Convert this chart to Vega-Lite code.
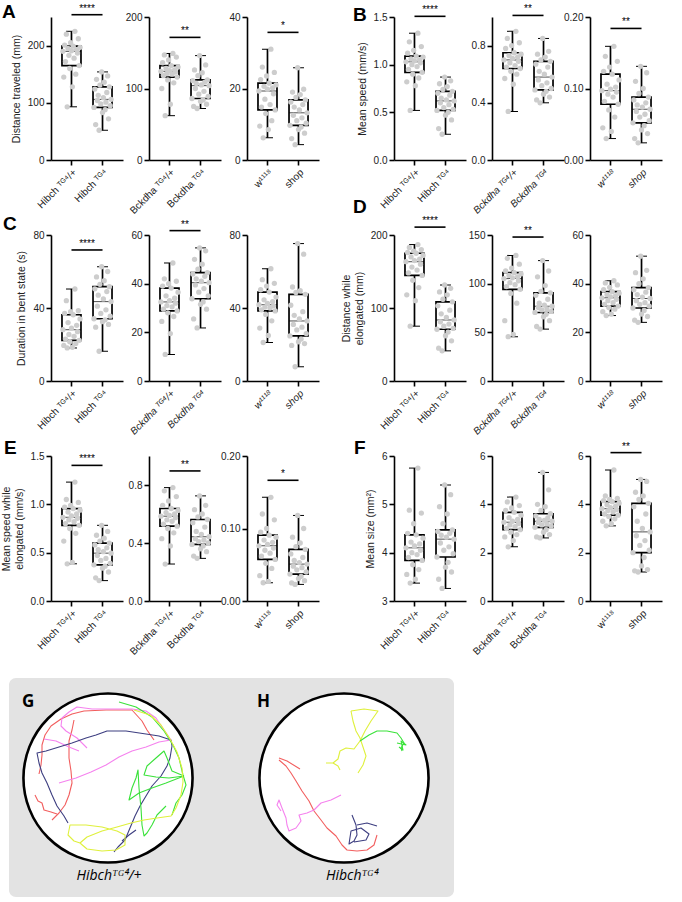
{
"$schema": "https://vega.github.io/schema/vega-lite/v6.json",
"padding": {"left": 1, "top": 2, "right": 2, "bottom": 0},
"background": "white",
"datasets": {
"A1": [{"g":"h+","i":1,"v":190},{"g":"h+","i":2,"v":145},{"g":"h+","i":3,"v":201},{"g":"h+","i":4,"v":172},{"g":"h+","i":5,"v":220},{"g":"h+","i":6,"v":93},{"g":"h+","i":7,"v":195},{"g":"h+","i":8,"v":183},{"g":"h+","i":9,"v":160},{"g":"h+","i":10,"v":205},{"g":"h+","i":11,"v":191},{"g":"h+","i":12,"v":128},{"g":"h+","i":13,"v":199},{"g":"h+","i":14,"v":178},{"g":"h+","i":15,"v":225},{"g":"h+","i":16,"v":150},{"g":"h+","i":17,"v":193},{"g":"h+","i":18,"v":187},{"g":"h+","i":19,"v":212},{"g":"h+","i":20,"v":165},{"g":"h+","i":21,"v":197},
{"g":"h","i":1,"v":92},{"g":"h","i":2,"v":124},{"g":"h","i":3,"v":62},{"g":"h","i":4,"v":141},{"g":"h","i":5,"v":104},{"g":"h","i":6,"v":113},{"g":"h","i":7,"v":52},{"g":"h","i":8,"v":131},{"g":"h","i":9,"v":98},{"g":"h","i":10,"v":154},{"g":"h","i":11,"v":83},{"g":"h","i":12,"v":109},{"g":"h","i":13,"v":136},{"g":"h","i":14,"v":88},{"g":"h","i":15,"v":101},{"g":"h","i":16,"v":118},{"g":"h","i":17,"v":147},{"g":"h","i":18,"v":72},{"g":"h","i":19,"v":128},{"g":"h","i":20,"v":95},{"g":"h","i":21,"v":106}],
"A2": [{"g":"b+","i":1,"v":124},{"g":"b+","i":2,"v":100},{"g":"b+","i":3,"v":136},{"g":"b+","i":4,"v":118},{"g":"b+","i":5,"v":147},{"g":"b+","i":6,"v":62},{"g":"b+","i":7,"v":128},{"g":"b+","i":8,"v":121},{"g":"b+","i":9,"v":112},{"g":"b+","i":10,"v":140},{"g":"b+","i":11,"v":125},{"g":"b+","i":12,"v":78},{"g":"b+","i":13,"v":132},{"g":"b+","i":14,"v":120},{"g":"b+","i":15,"v":149},{"g":"b+","i":16,"v":108},{"g":"b+","i":17,"v":126},{"g":"b+","i":18,"v":123},{"g":"b+","i":19,"v":144},{"g":"b+","i":20,"v":116},{"g":"b+","i":21,"v":130},
{"g":"b","i":1,"v":86},{"g":"b","i":2,"v":111},{"g":"b","i":3,"v":75},{"g":"b","i":4,"v":126},{"g":"b","i":5,"v":100},{"g":"b","i":6,"v":107},{"g":"b","i":7,"v":72},{"g":"b","i":8,"v":118},{"g":"b","i":9,"v":92},{"g":"b","i":10,"v":146},{"g":"b","i":11,"v":82},{"g":"b","i":12,"v":105},{"g":"b","i":13,"v":122},{"g":"b","i":14,"v":84},{"g":"b","i":15,"v":96},{"g":"b","i":16,"v":109},{"g":"b","i":17,"v":133},{"g":"b","i":18,"v":78},{"g":"b","i":19,"v":112},{"g":"b","i":20,"v":89},{"g":"b","i":21,"v":104}],
"A3": [{"g":"w","i":1,"v":19.3},{"g":"w","i":2,"v":9.5},{"g":"w","i":3,"v":22.5},{"g":"w","i":4,"v":14.8},{"g":"w","i":5,"v":26},{"g":"w","i":6,"v":6.2},{"g":"w","i":7,"v":20.6},{"g":"w","i":8,"v":17},{"g":"w","i":9,"v":13},{"g":"w","i":10,"v":23.5},{"g":"w","i":11,"v":19.8},{"g":"w","i":12,"v":8.5},{"g":"w","i":13,"v":21.5},{"g":"w","i":14,"v":15.5},{"g":"w","i":15,"v":31},{"g":"w","i":16,"v":11},{"g":"w","i":17,"v":20.2},{"g":"w","i":18,"v":18.5},{"g":"w","i":19,"v":24.5},{"g":"w","i":20,"v":14},{"g":"w","i":21,"v":21},
{"g":"s","i":1,"v":9.7},{"g":"s","i":2,"v":16.2},{"g":"s","i":3,"v":6},{"g":"s","i":4,"v":19},{"g":"s","i":5,"v":12.5},{"g":"s","i":6,"v":14.8},{"g":"s","i":7,"v":4.3},{"g":"s","i":8,"v":17.5},{"g":"s","i":9,"v":11},{"g":"s","i":10,"v":25.8},{"g":"s","i":11,"v":8.5},{"g":"s","i":12,"v":14},{"g":"s","i":13,"v":18.3},{"g":"s","i":14,"v":9.2},{"g":"s","i":15,"v":11.8},{"g":"s","i":16,"v":15.5},{"g":"s","i":17,"v":19.8},{"g":"s","i":18,"v":7.5},{"g":"s","i":19,"v":16.8},{"g":"s","i":20,"v":10.3},{"g":"s","i":21,"v":13.2}],
"B1": [{"g":"h+","i":1,"v":1.03},{"g":"h+","i":2,"v":0.82},{"g":"h+","i":3,"v":1.12},{"g":"h+","i":4,"v":0.95},{"g":"h+","i":5,"v":1.24},{"g":"h+","i":6,"v":0.52},{"g":"h+","i":7,"v":1.06},{"g":"h+","i":8,"v":1.0},{"g":"h+","i":9,"v":0.9},{"g":"h+","i":10,"v":1.15},{"g":"h+","i":11,"v":1.04},{"g":"h+","i":12,"v":0.78},{"g":"h+","i":13,"v":1.09},{"g":"h+","i":14,"v":0.98},{"g":"h+","i":15,"v":1.33},{"g":"h+","i":16,"v":0.86},{"g":"h+","i":17,"v":1.05},{"g":"h+","i":18,"v":1.02},{"g":"h+","i":19,"v":1.19},{"g":"h+","i":20,"v":0.92},{"g":"h+","i":21,"v":1.08},
{"g":"h","i":1,"v":0.52},{"g":"h","i":2,"v":0.7},{"g":"h","i":3,"v":0.33},{"g":"h","i":4,"v":0.8},{"g":"h","i":5,"v":0.6},{"g":"h","i":6,"v":0.65},{"g":"h","i":7,"v":0.27},{"g":"h","i":8,"v":0.74},{"g":"h","i":9,"v":0.55},{"g":"h","i":10,"v":0.87},{"g":"h","i":11,"v":0.47},{"g":"h","i":12,"v":0.63},{"g":"h","i":13,"v":0.77},{"g":"h","i":14,"v":0.5},{"g":"h","i":15,"v":0.58},{"g":"h","i":16,"v":0.68},{"g":"h","i":17,"v":0.83},{"g":"h","i":18,"v":0.42},{"g":"h","i":19,"v":0.72},{"g":"h","i":20,"v":0.53},{"g":"h","i":21,"v":0.62}],
"B2": [{"g":"b+","i":1,"v":0.7},{"g":"b+","i":2,"v":0.57},{"g":"b+","i":3,"v":0.78},{"g":"b+","i":4,"v":0.65},{"g":"b+","i":5,"v":0.85},{"g":"b+","i":6,"v":0.34},{"g":"b+","i":7,"v":0.73},{"g":"b+","i":8,"v":0.68},{"g":"b+","i":9,"v":0.62},{"g":"b+","i":10,"v":0.8},{"g":"b+","i":11,"v":0.71},{"g":"b+","i":12,"v":0.53},{"g":"b+","i":13,"v":0.75},{"g":"b+","i":14,"v":0.66},{"g":"b+","i":15,"v":0.9},{"g":"b+","i":16,"v":0.6},{"g":"b+","i":17,"v":0.72},{"g":"b+","i":18,"v":0.69},{"g":"b+","i":19,"v":0.82},{"g":"b+","i":20,"v":0.64},{"g":"b+","i":21,"v":0.74},
{"g":"b","i":1,"v":0.49},{"g":"b","i":2,"v":0.67},{"g":"b","i":3,"v":0.42},{"g":"b","i":4,"v":0.74},{"g":"b","i":5,"v":0.56},{"g":"b","i":6,"v":0.62},{"g":"b","i":7,"v":0.4},{"g":"b","i":8,"v":0.7},{"g":"b","i":9,"v":0.52},{"g":"b","i":10,"v":0.85},{"g":"b","i":11,"v":0.46},{"g":"b","i":12,"v":0.6},{"g":"b","i":13,"v":0.72},{"g":"b","i":14,"v":0.48},{"g":"b","i":15,"v":0.54},{"g":"b","i":16,"v":0.65},{"g":"b","i":17,"v":0.76},{"g":"b","i":18,"v":0.44},{"g":"b","i":19,"v":0.69},{"g":"b","i":20,"v":0.5},{"g":"b","i":21,"v":0.58}],
"B3": [{"g":"w","i":1,"v":0.097},{"g":"w","i":2,"v":0.045},{"g":"w","i":3,"v":0.124},{"g":"w","i":4,"v":0.082},{"g":"w","i":5,"v":0.145},{"g":"w","i":6,"v":0.03},{"g":"w","i":7,"v":0.106},{"g":"w","i":8,"v":0.092},{"g":"w","i":9,"v":0.07},{"g":"w","i":10,"v":0.13},{"g":"w","i":11,"v":0.099},{"g":"w","i":12,"v":0.04},{"g":"w","i":13,"v":0.12},{"g":"w","i":14,"v":0.088},{"g":"w","i":15,"v":0.159},{"g":"w","i":16,"v":0.06},{"g":"w","i":17,"v":0.102},{"g":"w","i":18,"v":0.095},{"g":"w","i":19,"v":0.138},{"g":"w","i":20,"v":0.078},{"g":"w","i":21,"v":0.112},
{"g":"s","i":1,"v":0.052},{"g":"s","i":2,"v":0.084},{"g":"s","i":3,"v":0.03},{"g":"s","i":4,"v":0.11},{"g":"s","i":5,"v":0.068},{"g":"s","i":6,"v":0.077},{"g":"s","i":7,"v":0.024},{"g":"s","i":8,"v":0.093},{"g":"s","i":9,"v":0.06},{"g":"s","i":10,"v":0.131},{"g":"s","i":11,"v":0.042},{"g":"s","i":12,"v":0.074},{"g":"s","i":13,"v":0.1},{"g":"s","i":14,"v":0.048},{"g":"s","i":15,"v":0.064},{"g":"s","i":16,"v":0.08},{"g":"s","i":17,"v":0.122},{"g":"s","i":18,"v":0.037},{"g":"s","i":19,"v":0.088},{"g":"s","i":20,"v":0.055},{"g":"s","i":21,"v":0.071}],
"C1": [{"g":"h+","i":1,"v":28.1},{"g":"h+","i":2,"v":19.5},{"g":"h+","i":3,"v":37},{"g":"h+","i":4,"v":23},{"g":"h+","i":5,"v":44},{"g":"h+","i":6,"v":18.1},{"g":"h+","i":7,"v":32},{"g":"h+","i":8,"v":25.5},{"g":"h+","i":9,"v":21.5},{"g":"h+","i":10,"v":38},{"g":"h+","i":11,"v":29},{"g":"h+","i":12,"v":18.5},{"g":"h+","i":13,"v":36.3},{"g":"h+","i":14,"v":24.5},{"g":"h+","i":15,"v":50.4},{"g":"h+","i":16,"v":20.5},{"g":"h+","i":17,"v":30.5},{"g":"h+","i":18,"v":27},{"g":"h+","i":19,"v":38.5},{"g":"h+","i":20,"v":22.3},{"g":"h+","i":21,"v":34},
{"g":"h","i":1,"v":34.1},{"g":"h","i":2,"v":50.5},{"g":"h","i":3,"v":29.5},{"g":"h","i":4,"v":57},{"g":"h","i":5,"v":41},{"g":"h","i":6,"v":47},{"g":"h","i":7,"v":16.3},{"g":"h","i":8,"v":53},{"g":"h","i":9,"v":37},{"g":"h","i":10,"v":62.6},{"g":"h","i":11,"v":32.5},{"g":"h","i":12,"v":45},{"g":"h","i":13,"v":55},{"g":"h","i":14,"v":33.5},{"g":"h","i":15,"v":39},{"g":"h","i":16,"v":49},{"g":"h","i":17,"v":60},{"g":"h","i":18,"v":31},{"g":"h","i":19,"v":51.7},{"g":"h","i":20,"v":35.5},{"g":"h","i":21,"v":43.5}],
"C2": [{"g":"b+","i":1,"v":32.5},{"g":"b+","i":2,"v":24.5},{"g":"b+","i":3,"v":39},{"g":"b+","i":4,"v":29.5},{"g":"b+","i":5,"v":42},{"g":"b+","i":6,"v":10.9},{"g":"b+","i":7,"v":35},{"g":"b+","i":8,"v":31},{"g":"b+","i":9,"v":28},{"g":"b+","i":10,"v":40},{"g":"b+","i":11,"v":33},{"g":"b+","i":12,"v":19.5},{"g":"b+","i":13,"v":38.2},{"g":"b+","i":14,"v":30.5},{"g":"b+","i":15,"v":48.5},{"g":"b+","i":16,"v":26.5},{"g":"b+","i":17,"v":34},{"g":"b+","i":18,"v":32},{"g":"b+","i":19,"v":41},{"g":"b+","i":20,"v":28.8},{"g":"b+","i":21,"v":36.5},
{"g":"b","i":1,"v":33.8},{"g":"b","i":2,"v":44},{"g":"b","i":3,"v":25.5},{"g":"b","i":4,"v":50},{"g":"b","i":5,"v":39.5},{"g":"b","i":6,"v":42},{"g":"b","i":7,"v":21.8},{"g":"b","i":8,"v":46},{"g":"b","i":9,"v":36.5},{"g":"b","i":10,"v":54.7},{"g":"b","i":11,"v":31.5},{"g":"b","i":12,"v":41},{"g":"b","i":13,"v":48},{"g":"b","i":14,"v":32.5},{"g":"b","i":15,"v":38},{"g":"b","i":16,"v":43},{"g":"b","i":17,"v":53.5},{"g":"b","i":18,"v":29.5},{"g":"b","i":19,"v":44.5},{"g":"b","i":20,"v":35},{"g":"b","i":21,"v":40.4}],
"C3": [{"g":"w","i":1,"v":41.8},{"g":"w","i":2,"v":29},{"g":"w","i":3,"v":50},{"g":"w","i":4,"v":39},{"g":"w","i":5,"v":55.5},{"g":"w","i":6,"v":21.1},{"g":"w","i":7,"v":44.5},{"g":"w","i":8,"v":40.5},{"g":"w","i":9,"v":36.5},{"g":"w","i":10,"v":52},{"g":"w","i":11,"v":42.5},{"g":"w","i":12,"v":25},{"g":"w","i":13,"v":48.7},{"g":"w","i":14,"v":40},{"g":"w","i":15,"v":61.5},{"g":"w","i":16,"v":33},{"g":"w","i":17,"v":43.5},{"g":"w","i":18,"v":41.2},{"g":"w","i":19,"v":53.5},{"g":"w","i":20,"v":38.4},{"g":"w","i":21,"v":46},
{"g":"s","i":1,"v":24.7},{"g":"s","i":2,"v":41.5},{"g":"s","i":3,"v":19.5},{"g":"s","i":4,"v":51.5},{"g":"s","i":5,"v":31},{"g":"s","i":6,"v":36},{"g":"s","i":7,"v":7.8},{"g":"s","i":8,"v":48.5},{"g":"s","i":9,"v":28},{"g":"s","i":10,"v":75.3},{"g":"s","i":11,"v":21.5},{"g":"s","i":12,"v":34},{"g":"s","i":13,"v":49.5},{"g":"s","i":14,"v":23},{"g":"s","i":15,"v":29.5},{"g":"s","i":16,"v":38},{"g":"s","i":17,"v":69.5},{"g":"s","i":18,"v":20.5},{"g":"s","i":19,"v":47.5},{"g":"s","i":20,"v":26},{"g":"s","i":21,"v":32.9}],
"D1": [{"g":"h+","i":1,"v":163.4},{"g":"h+","i":2,"v":118},{"g":"h+","i":3,"v":176},{"g":"h+","i":4,"v":148},{"g":"h+","i":5,"v":183},{"g":"h+","i":6,"v":75.1},{"g":"h+","i":7,"v":170},{"g":"h+","i":8,"v":156},{"g":"h+","i":9,"v":138},{"g":"h+","i":10,"v":178},{"g":"h+","i":11,"v":165},{"g":"h+","i":12,"v":110},{"g":"h+","i":13,"v":175},{"g":"h+","i":14,"v":152},{"g":"h+","i":15,"v":186.9},{"g":"h+","i":16,"v":128},{"g":"h+","i":17,"v":167},{"g":"h+","i":18,"v":160},{"g":"h+","i":19,"v":180},{"g":"h+","i":20,"v":144.6},{"g":"h+","i":21,"v":172},
{"g":"h","i":1,"v":70.9},{"g":"h","i":2,"v":103},{"g":"h","i":3,"v":45},{"g":"h","i":4,"v":122},{"g":"h","i":5,"v":81},{"g":"h","i":6,"v":92},{"g":"h","i":7,"v":41.3},{"g":"h","i":8,"v":112},{"g":"h","i":9,"v":75},{"g":"h","i":10,"v":131.5},{"g":"h","i":11,"v":62},{"g":"h","i":12,"v":87},{"g":"h","i":13,"v":118},{"g":"h","i":14,"v":67},{"g":"h","i":15,"v":78},{"g":"h","i":16,"v":97},{"g":"h","i":17,"v":127},{"g":"h","i":18,"v":55},{"g":"h","i":19,"v":108.5},{"g":"h","i":20,"v":72},{"g":"h","i":21,"v":83.6}],
"D2": [{"g":"b+","i":1,"v":105.2},{"g":"b+","i":2,"v":62},{"g":"b+","i":3,"v":113},{"g":"b+","i":4,"v":97},{"g":"b+","i":5,"v":126},{"g":"b+","i":6,"v":45.5},{"g":"b+","i":7,"v":108.5},{"g":"b+","i":8,"v":101},{"g":"b+","i":9,"v":90},{"g":"b+","i":10,"v":116},{"g":"b+","i":11,"v":106},{"g":"b+","i":12,"v":48},{"g":"b+","i":13,"v":111.3},{"g":"b+","i":14,"v":99},{"g":"b+","i":15,"v":129},{"g":"b+","i":16,"v":80},{"g":"b+","i":17,"v":107},{"g":"b+","i":18,"v":103},{"g":"b+","i":19,"v":120},{"g":"b+","i":20,"v":94.2},{"g":"b+","i":21,"v":110},
{"g":"b","i":1,"v":70.4},{"g":"b","i":2,"v":88},{"g":"b","i":3,"v":56},{"g":"b","i":4,"v":107},{"g":"b","i":5,"v":75.5},{"g":"b","i":6,"v":80},{"g":"b","i":7,"v":53.3},{"g":"b","i":8,"v":92},{"g":"b","i":9,"v":73},{"g":"b","i":10,"v":123.7},{"g":"b","i":11,"v":66},{"g":"b","i":12,"v":78},{"g":"b","i":13,"v":98},{"g":"b","i":14,"v":68.5},{"g":"b","i":15,"v":74},{"g":"b","i":16,"v":84},{"g":"b","i":17,"v":113},{"g":"b","i":18,"v":62},{"g":"b","i":19,"v":90.6},{"g":"b","i":20,"v":71.5},{"g":"b","i":21,"v":76.8}],
"D3": [{"g":"w","i":1,"v":34.2},{"g":"w","i":2,"v":28.5},{"g":"w","i":3,"v":37.5},{"g":"w","i":4,"v":31.5},{"g":"w","i":5,"v":40.3},{"g":"w","i":6,"v":26.9},{"g":"w","i":7,"v":35.5},{"g":"w","i":8,"v":33},{"g":"w","i":9,"v":30.2},{"g":"w","i":10,"v":38.5},{"g":"w","i":11,"v":34.6},{"g":"w","i":12,"v":27.5},{"g":"w","i":13,"v":36.7},{"g":"w","i":14,"v":32.2},{"g":"w","i":15,"v":41.2},{"g":"w","i":16,"v":29.5},{"g":"w","i":17,"v":35},{"g":"w","i":18,"v":33.6},{"g":"w","i":19,"v":39.5},{"g":"w","i":20,"v":30.8},{"g":"w","i":21,"v":36.1},
{"g":"s","i":1,"v":30},{"g":"s","i":2,"v":37.5},{"g":"s","i":3,"v":25},{"g":"s","i":4,"v":44.5},{"g":"s","i":5,"v":33},{"g":"s","i":6,"v":35.5},{"g":"s","i":7,"v":24.1},{"g":"s","i":8,"v":40},{"g":"s","i":9,"v":31.5},{"g":"s","i":10,"v":51.3},{"g":"s","i":11,"v":27.5},{"g":"s","i":12,"v":34.5},{"g":"s","i":13,"v":42},{"g":"s","i":14,"v":29},{"g":"s","i":15,"v":32.2},{"g":"s","i":16,"v":36.5},{"g":"s","i":17,"v":45.5},{"g":"s","i":18,"v":26.5},{"g":"s","i":19,"v":38.4},{"g":"s","i":20,"v":30.8},{"g":"s","i":21,"v":33.9}],
"E1": [{"g":"h+","i":1,"v":0.866},{"g":"h+","i":2,"v":0.62},{"g":"h+","i":3,"v":0.97},{"g":"h+","i":4,"v":0.8},{"g":"h+","i":5,"v":1.05},{"g":"h+","i":6,"v":0.385},{"g":"h+","i":7,"v":0.92},{"g":"h+","i":8,"v":0.84},{"g":"h+","i":9,"v":0.75},{"g":"h+","i":10,"v":0.99},{"g":"h+","i":11,"v":0.88},{"g":"h+","i":12,"v":0.4},{"g":"h+","i":13,"v":0.956},{"g":"h+","i":14,"v":0.82},{"g":"h+","i":15,"v":1.23},{"g":"h+","i":16,"v":0.7},{"g":"h+","i":17,"v":0.9},{"g":"h+","i":18,"v":0.855},{"g":"h+","i":19,"v":1.02},{"g":"h+","i":20,"v":0.783},{"g":"h+","i":21,"v":0.94},
{"g":"h","i":1,"v":0.374},{"g":"h","i":2,"v":0.58},{"g":"h","i":3,"v":0.24},{"g":"h","i":4,"v":0.68},{"g":"h","i":5,"v":0.47},{"g":"h","i":6,"v":0.53},{"g":"h","i":7,"v":0.211},{"g":"h","i":8,"v":0.62},{"g":"h","i":9,"v":0.42},{"g":"h","i":10,"v":0.783},{"g":"h","i":11,"v":0.34},{"g":"h","i":12,"v":0.51},{"g":"h","i":13,"v":0.65},{"g":"h","i":14,"v":0.36},{"g":"h","i":15,"v":0.44},{"g":"h","i":16,"v":0.55},{"g":"h","i":17,"v":0.72},{"g":"h","i":18,"v":0.3},{"g":"h","i":19,"v":0.599},{"g":"h","i":20,"v":0.39},{"g":"h","i":21,"v":0.495}],
"E2": [{"g":"b+","i":1,"v":0.585},{"g":"b+","i":2,"v":0.43},{"g":"b+","i":3,"v":0.66},{"g":"b+","i":4,"v":0.53},{"g":"b+","i":5,"v":0.76},{"g":"b+","i":6,"v":0.255},{"g":"b+","i":7,"v":0.61},{"g":"b+","i":8,"v":0.56},{"g":"b+","i":9,"v":0.5},{"g":"b+","i":10,"v":0.69},{"g":"b+","i":11,"v":0.59},{"g":"b+","i":12,"v":0.38},{"g":"b+","i":13,"v":0.638},{"g":"b+","i":14,"v":0.55},{"g":"b+","i":15,"v":0.782},{"g":"b+","i":16,"v":0.47},{"g":"b+","i":17,"v":0.6},{"g":"b+","i":18,"v":0.575},{"g":"b+","i":19,"v":0.72},{"g":"b+","i":20,"v":0.516},{"g":"b+","i":21,"v":0.625},
{"g":"b","i":1,"v":0.39},{"g":"b","i":2,"v":0.54},{"g":"b","i":3,"v":0.31},{"g":"b","i":4,"v":0.63},{"g":"b","i":5,"v":0.43},{"g":"b","i":6,"v":0.48},{"g":"b","i":7,"v":0.294},{"g":"b","i":8,"v":0.58},{"g":"b","i":9,"v":0.41},{"g":"b","i":10,"v":0.725},{"g":"b","i":11,"v":0.36},{"g":"b","i":12,"v":0.46},{"g":"b","i":13,"v":0.6},{"g":"b","i":14,"v":0.38},{"g":"b","i":15,"v":0.42},{"g":"b","i":16,"v":0.51},{"g":"b","i":17,"v":0.66},{"g":"b","i":18,"v":0.34},{"g":"b","i":19,"v":0.562},{"g":"b","i":20,"v":0.4},{"g":"b","i":21,"v":0.443}],
"E3": [{"g":"w","i":1,"v":0.0761},{"g":"w","i":2,"v":0.035},{"g":"w","i":3,"v":0.095},{"g":"w","i":4,"v":0.062},{"g":"w","i":5,"v":0.12},{"g":"w","i":6,"v":0.0252},{"g":"w","i":7,"v":0.084},{"g":"w","i":8,"v":0.07},{"g":"w","i":9,"v":0.052},{"g":"w","i":10,"v":0.1},{"g":"w","i":11,"v":0.078},{"g":"w","i":12,"v":0.027},{"g":"w","i":13,"v":0.0908},{"g":"w","i":14,"v":0.066},{"g":"w","i":15,"v":0.143},{"g":"w","i":16,"v":0.045},{"g":"w","i":17,"v":0.081},{"g":"w","i":18,"v":0.073},{"g":"w","i":19,"v":0.112},{"g":"w","i":20,"v":0.0573},{"g":"w","i":21,"v":0.088},
{"g":"s","i":1,"v":0.0372},{"g":"s","i":2,"v":0.065},{"g":"s","i":3,"v":0.025},{"g":"s","i":4,"v":0.088},{"g":"s","i":5,"v":0.048},{"g":"s","i":6,"v":0.056},{"g":"s","i":7,"v":0.0229},{"g":"s","i":8,"v":0.075},{"g":"s","i":9,"v":0.043},{"g":"s","i":10,"v":0.118},{"g":"s","i":11,"v":0.031},{"g":"s","i":12,"v":0.053},{"g":"s","i":13,"v":0.08},{"g":"s","i":14,"v":0.034},{"g":"s","i":15,"v":0.046},{"g":"s","i":16,"v":0.06},{"g":"s","i":17,"v":0.1},{"g":"s","i":18,"v":0.028},{"g":"s","i":19,"v":0.0711},{"g":"s","i":20,"v":0.04},{"g":"s","i":21,"v":0.0509}],
"F1": [{"g":"h+","i":1,"v":4.1},{"g":"h+","i":2,"v":3.55},{"g":"h+","i":3,"v":4.4},{"g":"h+","i":4,"v":3.9},{"g":"h+","i":5,"v":4.88},{"g":"h+","i":6,"v":3.37},{"g":"h+","i":7,"v":4.22},{"g":"h+","i":8,"v":4.0},{"g":"h+","i":9,"v":3.75},{"g":"h+","i":10,"v":4.6},{"g":"h+","i":11,"v":4.14},{"g":"h+","i":12,"v":3.45},{"g":"h+","i":13,"v":4.37},{"g":"h+","i":14,"v":3.96},{"g":"h+","i":15,"v":5.75},{"g":"h+","i":16,"v":3.65},{"g":"h+","i":17,"v":4.18},{"g":"h+","i":18,"v":4.05},{"g":"h+","i":19,"v":4.82},{"g":"h+","i":20,"v":3.84},{"g":"h+","i":21,"v":4.3},
{"g":"h","i":1,"v":3.91},{"g":"h","i":2,"v":4.44},{"g":"h","i":3,"v":3.45},{"g":"h","i":4,"v":4.95},{"g":"h","i":5,"v":4.2},{"g":"h","i":6,"v":4.36},{"g":"h","i":7,"v":3.26},{"g":"h","i":8,"v":4.6},{"g":"h","i":9,"v":4.05},{"g":"h","i":10,"v":5.4},{"g":"h","i":11,"v":3.7},{"g":"h","i":12,"v":4.32},{"g":"h","i":13,"v":4.8},{"g":"h","i":14,"v":3.8},{"g":"h","i":15,"v":4.12},{"g":"h","i":16,"v":4.4},{"g":"h","i":17,"v":5.2},{"g":"h","i":18,"v":3.6},{"g":"h","i":19,"v":4.47},{"g":"h","i":20,"v":3.98},{"g":"h","i":21,"v":4.28}],
"F2": [{"g":"b+","i":1,"v":3.26},{"g":"b+","i":2,"v":2.65},{"g":"b+","i":3,"v":3.75},{"g":"b+","i":4,"v":3.0},{"g":"b+","i":5,"v":4.1},{"g":"b+","i":6,"v":2.24},{"g":"b+","i":7,"v":3.45},{"g":"b+","i":8,"v":3.15},{"g":"b+","i":9,"v":2.85},{"g":"b+","i":10,"v":3.85},{"g":"b+","i":11,"v":3.3},{"g":"b+","i":12,"v":2.5},{"g":"b+","i":13,"v":3.67},{"g":"b+","i":14,"v":3.08},{"g":"b+","i":15,"v":4.3},{"g":"b+","i":16,"v":2.75},{"g":"b+","i":17,"v":3.38},{"g":"b+","i":18,"v":3.2},{"g":"b+","i":19,"v":3.95},{"g":"b+","i":20,"v":2.95},{"g":"b+","i":21,"v":3.55},
{"g":"b","i":1,"v":3.05},{"g":"b","i":2,"v":3.52},{"g":"b","i":3,"v":2.65},{"g":"b","i":4,"v":4.0},{"g":"b","i":5,"v":3.25},{"g":"b","i":6,"v":3.38},{"g":"b","i":7,"v":2.61},{"g":"b","i":8,"v":3.75},{"g":"b","i":9,"v":3.15},{"g":"b","i":10,"v":5.32},{"g":"b","i":11,"v":2.85},{"g":"b","i":12,"v":3.34},{"g":"b","i":13,"v":3.9},{"g":"b","i":14,"v":2.95},{"g":"b","i":15,"v":3.2},{"g":"b","i":16,"v":3.44},{"g":"b","i":17,"v":4.6},{"g":"b","i":18,"v":2.75},{"g":"b","i":19,"v":3.61},{"g":"b","i":20,"v":3.1},{"g":"b","i":21,"v":3.3}],
"F3": [{"g":"w","i":1,"v":3.82},{"g":"w","i":2,"v":3.3},{"g":"w","i":3,"v":4.15},{"g":"w","i":4,"v":3.6},{"g":"w","i":5,"v":4.35},{"g":"w","i":6,"v":3.11},{"g":"w","i":7,"v":3.98},{"g":"w","i":8,"v":3.74},{"g":"w","i":9,"v":3.5},{"g":"w","i":10,"v":4.2},{"g":"w","i":11,"v":3.86},{"g":"w","i":12,"v":3.2},{"g":"w","i":13,"v":4.11},{"g":"w","i":14,"v":3.68},{"g":"w","i":15,"v":5.42},{"g":"w","i":16,"v":3.4},{"g":"w","i":17,"v":3.92},{"g":"w","i":18,"v":3.78},{"g":"w","i":19,"v":4.25},{"g":"w","i":20,"v":3.55},{"g":"w","i":21,"v":4.05},
{"g":"s","i":1,"v":2.0},{"g":"s","i":2,"v":3.9},{"g":"s","i":3,"v":1.25},{"g":"s","i":4,"v":4.5},{"g":"s","i":5,"v":2.7},{"g":"s","i":6,"v":3.3},{"g":"s","i":7,"v":1.2},{"g":"s","i":8,"v":4.2},{"g":"s","i":9,"v":2.3},{"g":"s","i":10,"v":5.03},{"g":"s","i":11,"v":1.45},{"g":"s","i":12,"v":3.0},{"g":"s","i":13,"v":4.35},{"g":"s","i":14,"v":1.8},{"g":"s","i":15,"v":2.5},{"g":"s","i":16,"v":3.6},{"g":"s","i":17,"v":4.95},{"g":"s","i":18,"v":1.3},{"g":"s","i":19,"v":4.04},{"g":"s","i":20,"v":2.1},{"g":"s","i":21,"v":2.86}],
"tracks": [
{"t":"G1","c":"1","k":1,"x":145,"y":62},{"t":"G1","c":"1","k":2,"x":138,"y":52},{"t":"G1","c":"1","k":3,"x":133,"y":43},{"t":"G1","c":"1","k":4,"x":123,"y":32},{"t":"G1","c":"1","k":5,"x":110,"y":32},{"t":"G1","c":"1","k":6,"x":97,"y":32},{"t":"G1","c":"1","k":7,"x":75,"y":33},{"t":"G1","c":"1","k":8,"x":63,"y":36},{"t":"G1","c":"1","k":9,"x":52,"y":41},{"t":"G1","c":"1","k":10,"x":42,"y":48},{"t":"G1","c":"1","k":11,"x":36,"y":57},{"t":"G1","c":"1","k":12,"x":33,"y":67},{"t":"G1","c":"1","k":13,"x":33,"y":77},{"t":"G1","c":"1","k":14,"x":32,"y":87},{"t":"G1","c":"1","k":15,"x":30,"y":96},
{"t":"G2","c":"1","k":1,"x":65,"y":42},{"t":"G2","c":"1","k":2,"x":63,"y":52},{"t":"G2","c":"1","k":3,"x":60,"y":63},{"t":"G2","c":"1","k":4,"x":60,"y":80},{"t":"G2","c":"1","k":5,"x":62,"y":93},{"t":"G2","c":"1","k":6,"x":63,"y":105},{"t":"G2","c":"1","k":7,"x":60,"y":117},{"t":"G2","c":"1","k":8,"x":56,"y":127},{"t":"G2","c":"1","k":9,"x":50,"y":135},{"t":"G2","c":"1","k":10,"x":43,"y":142},
{"t":"G3","c":"1","k":1,"x":26,"y":117},{"t":"G3","c":"1","k":2,"x":29,"y":123},{"t":"G3","c":"1","k":3,"x":33,"y":125},{"t":"G3","c":"1","k":4,"x":35,"y":132},{"t":"G3","c":"1","k":5,"x":42,"y":134},{"t":"G3","c":"1","k":6,"x":48,"y":136},
{"t":"G4","c":"2","k":1,"x":50,"y":105},{"t":"G4","c":"2","k":2,"x":67,"y":100},{"t":"G4","c":"2","k":3,"x":82,"y":94},{"t":"G4","c":"2","k":4,"x":97,"y":87},{"t":"G4","c":"2","k":5,"x":110,"y":79},{"t":"G4","c":"2","k":6,"x":123,"y":73},{"t":"G4","c":"2","k":7,"x":137,"y":69},{"t":"G4","c":"2","k":8,"x":150,"y":64},{"t":"G4","c":"2","k":9,"x":162,"y":62},
{"t":"G5","c":"2","k":1,"x":162,"y":62},{"t":"G5","c":"2","k":2,"x":153,"y":49},{"t":"G5","c":"2","k":3,"x":147,"y":40},{"t":"G5","c":"2","k":4,"x":137,"y":33},{"t":"G5","c":"2","k":5,"x":123,"y":31},{"t":"G5","c":"2","k":6,"x":107,"y":31},{"t":"G5","c":"2","k":7,"x":83,"y":31},{"t":"G5","c":"2","k":8,"x":68,"y":29},{"t":"G5","c":"2","k":9,"x":60,"y":34},{"t":"G5","c":"2","k":10,"x":53,"y":40},{"t":"G5","c":"2","k":11,"x":52,"y":48},{"t":"G5","c":"2","k":12,"x":57,"y":53},{"t":"G5","c":"2","k":13,"x":68,"y":60},{"t":"G5","c":"2","k":14,"x":78,"y":70},
{"t":"G6","c":"2","k":1,"x":35,"y":61},{"t":"G6","c":"2","k":2,"x":47,"y":63},{"t":"G6","c":"2","k":3,"x":60,"y":69},{"t":"G6","c":"2","k":4,"x":70,"y":73},
{"t":"G7","c":"3","k":1,"x":59,"y":145},{"t":"G7","c":"3","k":2,"x":55,"y":138},{"t":"G7","c":"3","k":3,"x":48,"y":128},{"t":"G7","c":"3","k":4,"x":43,"y":117},{"t":"G7","c":"3","k":5,"x":38,"y":105},{"t":"G7","c":"3","k":6,"x":33,"y":95},{"t":"G7","c":"3","k":7,"x":30,"y":85},{"t":"G7","c":"3","k":8,"x":28,"y":75},{"t":"G7","c":"3","k":9,"x":37,"y":73},{"t":"G7","c":"3","k":10,"x":50,"y":69},{"t":"G7","c":"3","k":11,"x":63,"y":65},{"t":"G7","c":"3","k":12,"x":77,"y":60},{"t":"G7","c":"3","k":13,"x":87,"y":57},{"t":"G7","c":"3","k":14,"x":98,"y":53},{"t":"G7","c":"3","k":15,"x":117,"y":53},{"t":"G7","c":"3","k":16,"x":137,"y":56},{"t":"G7","c":"3","k":17,"x":150,"y":58},{"t":"G7","c":"3","k":18,"x":162,"y":62},{"t":"G7","c":"3","k":19,"x":163,"y":68},{"t":"G7","c":"3","k":20,"x":161,"y":80},{"t":"G7","c":"3","k":21,"x":158,"y":88},{"t":"G7","c":"3","k":22,"x":152,"y":98},{"t":"G7","c":"3","k":23,"x":143,"y":108},{"t":"G7","c":"3","k":24,"x":137,"y":118},{"t":"G7","c":"3","k":25,"x":131,"y":128},{"t":"G7","c":"3","k":26,"x":126,"y":138},{"t":"G7","c":"3","k":27,"x":121,"y":150},{"t":"G7","c":"3","k":28,"x":116,"y":162},{"t":"G7","c":"3","k":29,"x":109,"y":169},{"t":"G7","c":"3","k":30,"x":105,"y":174},
{"t":"G8","c":"3","k":1,"x":113,"y":163},{"t":"G8","c":"3","k":2,"x":120,"y":157},{"t":"G8","c":"3","k":3,"x":127,"y":152},
{"t":"G9","c":"4","k":1,"x":110,"y":24},{"t":"G9","c":"4","k":2,"x":127,"y":29},{"t":"G9","c":"4","k":3,"x":143,"y":39},{"t":"G9","c":"4","k":4,"x":155,"y":53},{"t":"G9","c":"4","k":5,"x":164,"y":67},{"t":"G9","c":"4","k":6,"x":170,"y":80},{"t":"G9","c":"4","k":7,"x":174,"y":97},{"t":"G9","c":"4","k":8,"x":177,"y":107},{"t":"G9","c":"4","k":9,"x":173,"y":117},{"t":"G9","c":"4","k":10,"x":167,"y":125},{"t":"G9","c":"4","k":11,"x":163,"y":137},
{"t":"G10","c":"4","k":1,"x":175,"y":98},{"t":"G10","c":"4","k":2,"x":160,"y":100},{"t":"G10","c":"4","k":3,"x":147,"y":99},{"t":"G10","c":"4","k":4,"x":135,"y":97},{"t":"G10","c":"4","k":5,"x":138,"y":88},{"t":"G10","c":"4","k":6,"x":147,"y":80},{"t":"G10","c":"4","k":7,"x":155,"y":73},{"t":"G10","c":"4","k":8,"x":158,"y":80},{"t":"G10","c":"4","k":9,"x":163,"y":93},{"t":"G10","c":"4","k":10,"x":175,"y":98},
{"t":"G11","c":"4","k":1,"x":175,"y":98},{"t":"G11","c":"4","k":2,"x":157,"y":105},{"t":"G11","c":"4","k":3,"x":143,"y":110},{"t":"G11","c":"4","k":4,"x":130,"y":115},{"t":"G11","c":"4","k":5,"x":120,"y":122},{"t":"G11","c":"4","k":6,"x":123,"y":110},{"t":"G11","c":"4","k":7,"x":127,"y":100},{"t":"G11","c":"4","k":8,"x":129,"y":92},{"t":"G11","c":"4","k":9,"x":130,"y":110},{"t":"G11","c":"4","k":10,"x":132,"y":130},{"t":"G11","c":"4","k":11,"x":133,"y":147},{"t":"G11","c":"4","k":12,"x":135,"y":158},{"t":"G11","c":"4","k":13,"x":138,"y":155},{"t":"G11","c":"4","k":14,"x":143,"y":147},{"t":"G11","c":"4","k":15,"x":148,"y":137},{"t":"G11","c":"4","k":16,"x":157,"y":128},
{"t":"G12","c":"5","k":1,"x":125,"y":32},{"t":"G12","c":"5","k":2,"x":141,"y":37},{"t":"G12","c":"5","k":3,"x":152,"y":47},{"t":"G12","c":"5","k":4,"x":161,"y":61},{"t":"G12","c":"5","k":5,"x":168,"y":74},{"t":"G12","c":"5","k":6,"x":173,"y":90},{"t":"G12","c":"5","k":7,"x":174,"y":104},{"t":"G12","c":"5","k":8,"x":172,"y":117},{"t":"G12","c":"5","k":9,"x":167,"y":130},{"t":"G12","c":"5","k":10,"x":162,"y":138},{"t":"G12","c":"5","k":11,"x":148,"y":140},{"t":"G12","c":"5","k":12,"x":135,"y":142},{"t":"G12","c":"5","k":13,"x":122,"y":145},{"t":"G12","c":"5","k":14,"x":108,"y":149},{"t":"G12","c":"5","k":15,"x":93,"y":153},{"t":"G12","c":"5","k":16,"x":78,"y":159},{"t":"G12","c":"5","k":17,"x":71,"y":165},{"t":"G12","c":"5","k":18,"x":78,"y":171},{"t":"G12","c":"5","k":19,"x":93,"y":173},{"t":"G12","c":"5","k":20,"x":107,"y":172},{"t":"G12","c":"5","k":21,"x":116,"y":167},{"t":"G12","c":"5","k":22,"x":116,"y":157},{"t":"G12","c":"5","k":23,"x":108,"y":153},{"t":"G12","c":"5","k":24,"x":93,"y":149},{"t":"G12","c":"5","k":25,"x":77,"y":147},{"t":"G12","c":"5","k":26,"x":61,"y":147},{"t":"G12","c":"5","k":27,"x":59,"y":157},{"t":"G12","c":"5","k":28,"x":65,"y":163},{"t":"G12","c":"5","k":29,"x":71,"y":165},
{"t":"H1","c":"5","k":1,"x":342,"y":33},{"t":"H1","c":"5","k":2,"x":344,"y":43},{"t":"H1","c":"5","k":3,"x":347,"y":53},{"t":"H1","c":"5","k":4,"x":351,"y":60},{"t":"H1","c":"5","k":5,"x":354,"y":69},{"t":"H1","c":"5","k":6,"x":357,"y":78},{"t":"H1","c":"5","k":7,"x":354,"y":87},{"t":"H1","c":"5","k":8,"x":349,"y":95},
{"t":"H2","c":"5","k":1,"x":342,"y":33},{"t":"H2","c":"5","k":2,"x":355,"y":31},{"t":"H2","c":"5","k":3,"x":369,"y":33},{"t":"H2","c":"5","k":4,"x":362,"y":43},{"t":"H2","c":"5","k":5,"x":356,"y":53},{"t":"H2","c":"5","k":6,"x":351,"y":63},{"t":"H2","c":"5","k":7,"x":345,"y":71},{"t":"H2","c":"5","k":8,"x":337,"y":70},{"t":"H2","c":"5","k":9,"x":331,"y":73},{"t":"H2","c":"5","k":10,"x":329,"y":81},{"t":"H2","c":"5","k":11,"x":324,"y":85},{"t":"H2","c":"5","k":12,"x":317,"y":85},
{"t":"H3","c":"5","k":1,"x":324,"y":85},{"t":"H3","c":"5","k":2,"x":329,"y":88},{"t":"H3","c":"5","k":3,"x":331,"y":92},
{"t":"H4","c":"4","k":1,"x":351,"y":63},{"t":"H4","c":"4","k":2,"x":360,"y":57},{"t":"H4","c":"4","k":3,"x":368,"y":53},{"t":"H4","c":"4","k":4,"x":378,"y":53},{"t":"H4","c":"4","k":5,"x":388,"y":55},{"t":"H4","c":"4","k":6,"x":392,"y":60},{"t":"H4","c":"4","k":7,"x":395,"y":65},{"t":"H4","c":"4","k":8,"x":392,"y":70},{"t":"H4","c":"4","k":9,"x":393,"y":73},
{"t":"H5","c":"4","k":1,"x":388,"y":65},{"t":"H5","c":"4","k":2,"x":397,"y":67},{"t":"H5","c":"4","k":3,"x":392,"y":63},{"t":"H5","c":"4","k":4,"x":394,"y":72},{"t":"H5","c":"4","k":5,"x":390,"y":69},
{"t":"H6","c":"1","k":1,"x":270,"y":80},{"t":"H6","c":"1","k":2,"x":278,"y":83},{"t":"H6","c":"1","k":3,"x":291,"y":91},
{"t":"H7","c":"1","k":1,"x":270,"y":82},{"t":"H7","c":"1","k":2,"x":277,"y":88},{"t":"H7","c":"1","k":3,"x":282,"y":95},{"t":"H7","c":"1","k":4,"x":287,"y":103},{"t":"H7","c":"1","k":5,"x":293,"y":113},{"t":"H7","c":"1","k":6,"x":300,"y":123},{"t":"H7","c":"1","k":7,"x":305,"y":133},{"t":"H7","c":"1","k":8,"x":312,"y":142},{"t":"H7","c":"1","k":9,"x":318,"y":150},{"t":"H7","c":"1","k":10,"x":327,"y":158},{"t":"H7","c":"1","k":11,"x":333,"y":167},{"t":"H7","c":"1","k":12,"x":338,"y":172},{"t":"H7","c":"1","k":13,"x":348,"y":173},{"t":"H7","c":"1","k":14,"x":358,"y":172},{"t":"H7","c":"1","k":15,"x":365,"y":167},{"t":"H7","c":"1","k":16,"x":368,"y":157},
{"t":"H8","c":"2","k":1,"x":332,"y":117},{"t":"H8","c":"2","k":2,"x":322,"y":122},{"t":"H8","c":"2","k":3,"x":312,"y":125},{"t":"H8","c":"2","k":4,"x":305,"y":132},{"t":"H8","c":"2","k":5,"x":298,"y":135},{"t":"H8","c":"2","k":6,"x":290,"y":137},{"t":"H8","c":"2","k":7,"x":292,"y":143},{"t":"H8","c":"2","k":8,"x":287,"y":150},{"t":"H8","c":"2","k":9,"x":280,"y":153},{"t":"H8","c":"2","k":10,"x":278,"y":147},{"t":"H8","c":"2","k":11,"x":277,"y":140},{"t":"H8","c":"2","k":12,"x":273,"y":130},{"t":"H8","c":"2","k":13,"x":270,"y":122},{"t":"H8","c":"2","k":14,"x":268,"y":127},{"t":"H8","c":"2","k":15,"x":272,"y":133},
{"t":"H9","c":"3","k":1,"x":343,"y":137},{"t":"H9","c":"3","k":2,"x":347,"y":147},{"t":"H9","c":"3","k":3,"x":348,"y":157},{"t":"H9","c":"3","k":4,"x":345,"y":163},{"t":"H9","c":"3","k":5,"x":340,"y":166},{"t":"H9","c":"3","k":6,"x":342,"y":153},{"t":"H9","c":"3","k":7,"x":352,"y":150},{"t":"H9","c":"3","k":8,"x":360,"y":156},{"t":"H9","c":"3","k":9,"x":357,"y":162},{"t":"H9","c":"3","k":10,"x":345,"y":164},
{"t":"H10","c":"3","k":1,"x":348,"y":147},{"t":"H10","c":"3","k":2,"x":358,"y":145},{"t":"H10","c":"3","k":3,"x":368,"y":148}
]
},
"vconcat": [
{
"columns": 7, "align": "each", "bounds": "flush", "spacing": {"row": 75, "column": 26},
"concat": [
{"width": 72, "height": 143, "data": {"name": "A1"}, "title": {"text": "A", "frame": "group", "dx": -49, "dy": 22},
 "layer": [
  {"mark": "boxplot", "encoding": {"x": {"field": "g", "type": "nominal", "scale": {"type": "band", "domain": ["h+","h"], "paddingInner": 0.42, "paddingOuter": 0.37}, "axis": {"labelExpr": "datum.value == 'h+' ? 'Hibch ᵀᴳ⁴/+' : 'Hibch ᵀᴳ⁴'"}}, "y": {"field": "v", "type": "quantitative", "scale": {"domain": [0, 250], "nice": false, "zero": false}, "axis": {"values": [0,50,100,150,200,250], "format": "d", "title": "Distance traveled (mm)"}}}},
  {"mark": "point", "encoding": {"x": {"field": "g", "type": "nominal"}, "xOffset": {"field": "i", "type": "nominal"}, "y": {"field": "v", "type": "quantitative"}}},
  {"data": {"values": [{"a": "h+", "b": "h", "y": 254, "s": "****"}]}, "layer": [
   {"mark": "rule", "encoding": {"x": {"field": "a", "type": "nominal"}, "x2": {"field": "b"}, "y": {"field": "y", "type": "quantitative"}}},
   {"mark": {"type": "text", "dx": 15.5, "dy": -1, "color": "black"}, "encoding": {"x": {"field": "a", "type": "nominal"}, "y": {"field": "y", "type": "quantitative"}, "text": {"field": "s"}}}]}
 ]},
{"width": 72, "height": 143, "data": {"name": "A2"},
 "layer": [
  {"mark": "boxplot", "encoding": {"x": {"field": "g", "type": "nominal", "scale": {"type": "band", "domain": ["b+","b"], "paddingInner": 0.42, "paddingOuter": 0.37}, "axis": {"labelExpr": "datum.value == 'b+' ? 'Bckdha ᵀᴳ⁴/+' : 'Bckdha ᵀᴳ⁴'"}}, "y": {"field": "v", "type": "quantitative", "scale": {"domain": [0, 200], "nice": false, "zero": false}, "axis": {"values": [0,50,100,150,200], "format": "d", "title": null}}}},
  {"mark": "point", "encoding": {"x": {"field": "g", "type": "nominal"}, "xOffset": {"field": "i", "type": "nominal"}, "y": {"field": "v", "type": "quantitative"}}},
  {"data": {"values": [{"a": "b+", "b": "b", "y": 171.5, "s": "**"}]}, "layer": [
   {"mark": "rule", "encoding": {"x": {"field": "a", "type": "nominal"}, "x2": {"field": "b"}, "y": {"field": "y", "type": "quantitative"}}},
   {"mark": {"type": "text", "dx": 15.5, "dy": -1, "color": "black"}, "encoding": {"x": {"field": "a", "type": "nominal"}, "y": {"field": "y", "type": "quantitative"}, "text": {"field": "s"}}}]}
 ]},
{"width": 72, "height": 143, "data": {"name": "A3"},
 "layer": [
  {"mark": "boxplot", "encoding": {"x": {"field": "g", "type": "nominal", "scale": {"type": "band", "domain": ["w","s"], "paddingInner": 0.42, "paddingOuter": 0.37}, "axis": {"labelExpr": "datum.value == 'w' ? 'w¹¹¹⁸' : 'shop'"}}, "y": {"field": "v", "type": "quantitative", "scale": {"domain": [0, 40], "nice": false, "zero": false}, "axis": {"values": [0,10,20,30,40], "format": "d", "title": null}}}},
  {"mark": "point", "encoding": {"x": {"field": "g", "type": "nominal"}, "xOffset": {"field": "i", "type": "nominal"}, "y": {"field": "v", "type": "quantitative"}}},
  {"data": {"values": [{"a": "w", "b": "s", "y": 35.7, "s": "*"}]}, "layer": [
   {"mark": "rule", "encoding": {"x": {"field": "a", "type": "nominal"}, "x2": {"field": "b"}, "y": {"field": "y", "type": "quantitative"}}},
   {"mark": {"type": "text", "dx": 15.5, "dy": -1, "color": "black"}, "encoding": {"x": {"field": "a", "type": "nominal"}, "y": {"field": "y", "type": "quantitative"}, "text": {"field": "s"}}}]}
 ]},
{"width": 23, "height": 20, "data": {"values": []}, "mark": {"type": "point", "opacity": 0}},
{"width": 72, "height": 143, "data": {"name": "B1"}, "title": {"text": "B", "frame": "group", "dx": -41, "dy": 24},
 "layer": [
  {"mark": "boxplot", "encoding": {"x": {"field": "g", "type": "nominal", "scale": {"type": "band", "domain": ["h+","h"], "paddingInner": 0.42, "paddingOuter": 0.37}, "axis": {"labelExpr": "datum.value == 'h+' ? 'Hibch ᵀᴳ⁴/+' : 'Hibch ᵀᴳ⁴'"}}, "y": {"field": "v", "type": "quantitative", "scale": {"domain": [0, 1.5], "nice": false, "zero": false}, "axis": {"values": [0,0.5,1,1.5], "format": ".1f", "title": "Mean speed (mm/s)"}}}},
  {"mark": "point", "encoding": {"x": {"field": "g", "type": "nominal"}, "xOffset": {"field": "i", "type": "nominal"}, "y": {"field": "v", "type": "quantitative"}}},
  {"data": {"values": [{"a": "h+", "b": "h", "y": 1.507, "s": "****"}]}, "layer": [
   {"mark": "rule", "encoding": {"x": {"field": "a", "type": "nominal"}, "x2": {"field": "b"}, "y": {"field": "y", "type": "quantitative"}}},
   {"mark": {"type": "text", "dx": 15.5, "dy": -1, "color": "black"}, "encoding": {"x": {"field": "a", "type": "nominal"}, "y": {"field": "y", "type": "quantitative"}, "text": {"field": "s"}}}]}
 ]},
{"width": 72, "height": 143, "data": {"name": "B2"},
 "layer": [
  {"mark": "boxplot", "encoding": {"x": {"field": "g", "type": "nominal", "scale": {"type": "band", "domain": ["b+","b"], "paddingInner": 0.42, "paddingOuter": 0.37}, "axis": {"labelFontStyle": "italic", "labelExpr": "datum.value == 'b+' ? 'Bckdha ᵀᴳ⁴/+' : 'Bckdha ᵀᴳ⁴'"}}, "y": {"field": "v", "type": "quantitative", "scale": {"domain": [0, 1], "nice": false, "zero": false}, "axis": {"values": [0,0.2,0.4,0.6,0.8,1], "format": ".1f", "title": null}}}},
  {"mark": "point", "encoding": {"x": {"field": "g", "type": "nominal"}, "xOffset": {"field": "i", "type": "nominal"}, "y": {"field": "v", "type": "quantitative"}}},
  {"data": {"values": [{"a": "b+", "b": "b", "y": 1.011, "s": "**"}]}, "layer": [
   {"mark": "rule", "encoding": {"x": {"field": "a", "type": "nominal"}, "x2": {"field": "b"}, "y": {"field": "y", "type": "quantitative"}}},
   {"mark": {"type": "text", "dx": 15.5, "dy": -1, "color": "black"}, "encoding": {"x": {"field": "a", "type": "nominal"}, "y": {"field": "y", "type": "quantitative"}, "text": {"field": "s"}}}]}
 ]},
{"width": 72, "height": 143, "data": {"name": "B3"},
 "layer": [
  {"mark": "boxplot", "encoding": {"x": {"field": "g", "type": "nominal", "scale": {"type": "band", "domain": ["w","s"], "paddingInner": 0.42, "paddingOuter": 0.37}, "axis": {"labelFontStyle": "italic", "labelExpr": "datum.value == 'w' ? 'w¹¹¹⁸' : 'shop'"}}, "y": {"field": "v", "type": "quantitative", "scale": {"domain": [0, 0.2], "nice": false, "zero": false}, "axis": {"values": [0,0.05,0.1,0.15,0.2], "format": ".2f", "title": null}}}},
  {"mark": "point", "encoding": {"x": {"field": "g", "type": "nominal"}, "xOffset": {"field": "i", "type": "nominal"}, "y": {"field": "v", "type": "quantitative"}}},
  {"data": {"values": [{"a": "w", "b": "s", "y": 0.184, "s": "**"}]}, "layer": [
   {"mark": "rule", "encoding": {"x": {"field": "a", "type": "nominal"}, "x2": {"field": "b"}, "y": {"field": "y", "type": "quantitative"}}},
   {"mark": {"type": "text", "dx": 15.5, "dy": -1, "color": "black"}, "encoding": {"x": {"field": "a", "type": "nominal"}, "y": {"field": "y", "type": "quantitative"}, "text": {"field": "s"}}}]}
 ]},
{"width": 72, "height": 146, "data": {"name": "C1"}, "title": {"text": "C", "frame": "group", "dx": -48, "dy": 8},
 "layer": [
  {"mark": "boxplot", "encoding": {"x": {"field": "g", "type": "nominal", "scale": {"type": "band", "domain": ["h+","h"], "paddingInner": 0.42, "paddingOuter": 0.37}, "axis": {"labelExpr": "datum.value == 'h+' ? 'Hibch ᵀᴳ⁴/+' : 'Hibch ᵀᴳ⁴'"}}, "y": {"field": "v", "type": "quantitative", "scale": {"domain": [0, 80], "nice": false, "zero": false}, "axis": {"values": [0,20,40,60,80], "format": "d", "title": "Duration in bent state (s)"}}}},
  {"mark": "point", "encoding": {"x": {"field": "g", "type": "nominal"}, "xOffset": {"field": "i", "type": "nominal"}, "y": {"field": "v", "type": "quantitative"}}},
  {"data": {"values": [{"a": "h+", "b": "h", "y": 71.8, "s": "****"}]}, "layer": [
   {"mark": "rule", "encoding": {"x": {"field": "a", "type": "nominal"}, "x2": {"field": "b"}, "y": {"field": "y", "type": "quantitative"}}},
   {"mark": {"type": "text", "dx": 15.5, "dy": -1, "color": "black"}, "encoding": {"x": {"field": "a", "type": "nominal"}, "y": {"field": "y", "type": "quantitative"}, "text": {"field": "s"}}}]}
 ]},
{"width": 72, "height": 146, "data": {"name": "C2"},
 "layer": [
  {"mark": "boxplot", "encoding": {"x": {"field": "g", "type": "nominal", "scale": {"type": "band", "domain": ["b+","b"], "paddingInner": 0.42, "paddingOuter": 0.37}, "axis": {"labelFontStyle": "italic", "labelExpr": "datum.value == 'b+' ? 'Bckdha ᵀᴳ⁴/+' : 'Bckdha ᵀᴳ⁴'"}}, "y": {"field": "v", "type": "quantitative", "scale": {"domain": [0, 60], "nice": false, "zero": false}, "axis": {"values": [0,20,40,60], "format": "d", "title": null}}}},
  {"mark": "point", "encoding": {"x": {"field": "g", "type": "nominal"}, "xOffset": {"field": "i", "type": "nominal"}, "y": {"field": "v", "type": "quantitative"}}},
  {"data": {"values": [{"a": "b+", "b": "b", "y": 61.8, "s": "**"}]}, "layer": [
   {"mark": "rule", "encoding": {"x": {"field": "a", "type": "nominal"}, "x2": {"field": "b"}, "y": {"field": "y", "type": "quantitative"}}},
   {"mark": {"type": "text", "dx": 15.5, "dy": -1, "color": "black"}, "encoding": {"x": {"field": "a", "type": "nominal"}, "y": {"field": "y", "type": "quantitative"}, "text": {"field": "s"}}}]}
 ]},
{"width": 72, "height": 146, "data": {"name": "C3"},
 "layer": [
  {"mark": "boxplot", "encoding": {"x": {"field": "g", "type": "nominal", "scale": {"type": "band", "domain": ["w","s"], "paddingInner": 0.42, "paddingOuter": 0.37}, "axis": {"labelFontStyle": "italic", "labelExpr": "datum.value == 'w' ? 'w¹¹¹⁸' : 'shop'"}}, "y": {"field": "v", "type": "quantitative", "scale": {"domain": [0, 80], "nice": false, "zero": false}, "axis": {"values": [0,20,40,60,80], "format": "d", "title": null}}}},
  {"mark": "point", "encoding": {"x": {"field": "g", "type": "nominal"}, "xOffset": {"field": "i", "type": "nominal"}, "y": {"field": "v", "type": "quantitative"}}}
 ]},
{"width": 23, "height": 20, "data": {"values": []}, "mark": {"type": "point", "opacity": 0}},
{"width": 72, "height": 146, "data": {"name": "D1"}, "title": {"text": "D", "frame": "group", "dx": -41, "dy": 5},
 "layer": [
  {"mark": "boxplot", "encoding": {"x": {"field": "g", "type": "nominal", "scale": {"type": "band", "domain": ["h+","h"], "paddingInner": 0.42, "paddingOuter": 0.37}, "axis": {"labelExpr": "datum.value == 'h+' ? 'Hibch ᵀᴳ⁴/+' : 'Hibch ᵀᴳ⁴'"}}, "y": {"field": "v", "type": "quantitative", "scale": {"domain": [0, 200], "nice": false, "zero": false}, "axis": {"values": [0,50,100,150,200], "format": "d", "title": ["Distance while", "elongated (mm)"]}}}},
  {"mark": "point", "encoding": {"x": {"field": "g", "type": "nominal"}, "xOffset": {"field": "i", "type": "nominal"}, "y": {"field": "v", "type": "quantitative"}}},
  {"data": {"values": [{"a": "h+", "b": "h", "y": 210.8, "s": "****"}]}, "layer": [
   {"mark": "rule", "encoding": {"x": {"field": "a", "type": "nominal"}, "x2": {"field": "b"}, "y": {"field": "y", "type": "quantitative"}}},
   {"mark": {"type": "text", "dx": 15.5, "dy": -1, "color": "black"}, "encoding": {"x": {"field": "a", "type": "nominal"}, "y": {"field": "y", "type": "quantitative"}, "text": {"field": "s"}}}]}
 ]},
{"width": 72, "height": 146, "data": {"name": "D2"},
 "layer": [
  {"mark": "boxplot", "encoding": {"x": {"field": "g", "type": "nominal", "scale": {"type": "band", "domain": ["b+","b"], "paddingInner": 0.42, "paddingOuter": 0.37}, "axis": {"labelFontStyle": "italic", "labelExpr": "datum.value == 'b+' ? 'Bckdha ᵀᴳ⁴/+' : 'Bckdha ᵀᴳ⁴'"}}, "y": {"field": "v", "type": "quantitative", "scale": {"domain": [0, 150], "nice": false, "zero": false}, "axis": {"values": [0,50,100,150], "format": "d", "title": null}}}},
  {"mark": "point", "encoding": {"x": {"field": "g", "type": "nominal"}, "xOffset": {"field": "i", "type": "nominal"}, "y": {"field": "v", "type": "quantitative"}}},
  {"data": {"values": [{"a": "b+", "b": "b", "y": 147.9, "s": "**"}]}, "layer": [
   {"mark": "rule", "encoding": {"x": {"field": "a", "type": "nominal"}, "x2": {"field": "b"}, "y": {"field": "y", "type": "quantitative"}}},
   {"mark": {"type": "text", "dx": 15.5, "dy": -1, "color": "black"}, "encoding": {"x": {"field": "a", "type": "nominal"}, "y": {"field": "y", "type": "quantitative"}, "text": {"field": "s"}}}]}
 ]},
{"width": 72, "height": 146, "data": {"name": "D3"},
 "layer": [
  {"mark": "boxplot", "encoding": {"x": {"field": "g", "type": "nominal", "scale": {"type": "band", "domain": ["w","s"], "paddingInner": 0.42, "paddingOuter": 0.37}, "axis": {"labelFontStyle": "italic", "labelExpr": "datum.value == 'w' ? 'w¹¹¹⁸' : 'shop'"}}, "y": {"field": "v", "type": "quantitative", "scale": {"domain": [0, 60], "nice": false, "zero": false}, "axis": {"values": [0,20,40,60], "format": "d", "title": null}}}},
  {"mark": "point", "encoding": {"x": {"field": "g", "type": "nominal"}, "xOffset": {"field": "i", "type": "nominal"}, "y": {"field": "v", "type": "quantitative"}}}
 ]},
{"width": 72, "height": 145, "data": {"name": "E1"}, "title": {"text": "E", "frame": "group", "dx": -47, "dy": 11},
 "layer": [
  {"mark": "boxplot", "encoding": {"x": {"field": "g", "type": "nominal", "scale": {"type": "band", "domain": ["h+","h"], "paddingInner": 0.42, "paddingOuter": 0.37}, "axis": {"labelExpr": "datum.value == 'h+' ? 'Hibch ᵀᴳ⁴/+' : 'Hibch ᵀᴳ⁴'"}}, "y": {"field": "v", "type": "quantitative", "scale": {"domain": [0, 1.5], "nice": false, "zero": false}, "axis": {"values": [0,0.5,1,1.5], "format": ".1f", "title": ["Mean speed while", "elongated (mm/s)"]}}}},
  {"mark": "point", "encoding": {"x": {"field": "g", "type": "nominal"}, "xOffset": {"field": "i", "type": "nominal"}, "y": {"field": "v", "type": "quantitative"}}},
  {"data": {"values": [{"a": "h+", "b": "h", "y": 1.403, "s": "****"}]}, "layer": [
   {"mark": "rule", "encoding": {"x": {"field": "a", "type": "nominal"}, "x2": {"field": "b"}, "y": {"field": "y", "type": "quantitative"}}},
   {"mark": {"type": "text", "dx": 15.5, "dy": -1, "color": "black"}, "encoding": {"x": {"field": "a", "type": "nominal"}, "y": {"field": "y", "type": "quantitative"}, "text": {"field": "s"}}}]}
 ]},
{"width": 72, "height": 145, "data": {"name": "E2"},
 "layer": [
  {"mark": "boxplot", "encoding": {"x": {"field": "g", "type": "nominal", "scale": {"type": "band", "domain": ["b+","b"], "paddingInner": 0.42, "paddingOuter": 0.37}, "axis": {"labelExpr": "datum.value == 'b+' ? 'Bckdha ᵀᴳ⁴/+' : 'Bckdha ᵀᴳ⁴'"}}, "y": {"field": "v", "type": "quantitative", "scale": {"domain": [0, 1], "nice": false, "zero": false}, "axis": {"values": [0,0.2,0.4,0.6,0.8,1], "format": ".1f", "title": null}}}},
  {"mark": "point", "encoding": {"x": {"field": "g", "type": "nominal"}, "xOffset": {"field": "i", "type": "nominal"}, "y": {"field": "v", "type": "quantitative"}}},
  {"data": {"values": [{"a": "b+", "b": "b", "y": 0.897, "s": "**"}]}, "layer": [
   {"mark": "rule", "encoding": {"x": {"field": "a", "type": "nominal"}, "x2": {"field": "b"}, "y": {"field": "y", "type": "quantitative"}}},
   {"mark": {"type": "text", "dx": 15.5, "dy": -1, "color": "black"}, "encoding": {"x": {"field": "a", "type": "nominal"}, "y": {"field": "y", "type": "quantitative"}, "text": {"field": "s"}}}]}
 ]},
{"width": 72, "height": 145, "data": {"name": "E3"},
 "layer": [
  {"mark": "boxplot", "encoding": {"x": {"field": "g", "type": "nominal", "scale": {"type": "band", "domain": ["w","s"], "paddingInner": 0.42, "paddingOuter": 0.37}, "axis": {"labelExpr": "datum.value == 'w' ? 'w¹¹¹⁸' : 'shop'"}}, "y": {"field": "v", "type": "quantitative", "scale": {"domain": [0, 0.2], "nice": false, "zero": false}, "axis": {"values": [0,0.05,0.1,0.15,0.2], "format": ".2f", "title": null}}}},
  {"mark": "point", "encoding": {"x": {"field": "g", "type": "nominal"}, "xOffset": {"field": "i", "type": "nominal"}, "y": {"field": "v", "type": "quantitative"}}},
  {"data": {"values": [{"a": "w", "b": "s", "y": 0.1665, "s": "*"}]}, "layer": [
   {"mark": "rule", "encoding": {"x": {"field": "a", "type": "nominal"}, "x2": {"field": "b"}, "y": {"field": "y", "type": "quantitative"}}},
   {"mark": {"type": "text", "dx": 15.5, "dy": -1, "color": "black"}, "encoding": {"x": {"field": "a", "type": "nominal"}, "y": {"field": "y", "type": "quantitative"}, "text": {"field": "s"}}}]}
 ]},
{"width": 23, "height": 20, "data": {"values": []}, "mark": {"type": "point", "opacity": 0}},
{"width": 72, "height": 145, "data": {"name": "F1"}, "title": {"text": "F", "frame": "group", "dx": -40, "dy": 11},
 "layer": [
  {"mark": "boxplot", "encoding": {"x": {"field": "g", "type": "nominal", "scale": {"type": "band", "domain": ["h+","h"], "paddingInner": 0.42, "paddingOuter": 0.37}, "axis": {"labelExpr": "datum.value == 'h+' ? 'Hibch ᵀᴳ⁴/+' : 'Hibch ᵀᴳ⁴'"}}, "y": {"field": "v", "type": "quantitative", "scale": {"domain": [3, 6], "nice": false, "zero": false}, "axis": {"values": [3,4,5,6], "format": "d", "title": "Mean size  (mm²)"}}}},
  {"mark": "point", "encoding": {"x": {"field": "g", "type": "nominal"}, "xOffset": {"field": "i", "type": "nominal"}, "y": {"field": "v", "type": "quantitative"}}}
 ]},
{"width": 72, "height": 145, "data": {"name": "F2"},
 "layer": [
  {"mark": "boxplot", "encoding": {"x": {"field": "g", "type": "nominal", "scale": {"type": "band", "domain": ["b+","b"], "paddingInner": 0.42, "paddingOuter": 0.37}, "axis": {"labelExpr": "datum.value == 'b+' ? 'Bckdha ᵀᴳ⁴/+' : 'Bckdha ᵀᴳ⁴'"}}, "y": {"field": "v", "type": "quantitative", "scale": {"domain": [0, 6], "nice": false, "zero": false}, "axis": {"values": [0,2,4,6], "format": "d", "title": null}}}},
  {"mark": "point", "encoding": {"x": {"field": "g", "type": "nominal"}, "xOffset": {"field": "i", "type": "nominal"}, "y": {"field": "v", "type": "quantitative"}}}
 ]},
{"width": 72, "height": 145, "data": {"name": "F3"},
 "layer": [
  {"mark": "boxplot", "encoding": {"x": {"field": "g", "type": "nominal", "scale": {"type": "band", "domain": ["w","s"], "paddingInner": 0.42, "paddingOuter": 0.37}, "axis": {"labelExpr": "datum.value == 'w' ? 'w¹¹¹⁸' : 'shop'"}}, "y": {"field": "v", "type": "quantitative", "scale": {"domain": [0, 6], "nice": false, "zero": false}, "axis": {"values": [0,2,4,6], "format": "d", "title": null}}}},
  {"mark": "point", "encoding": {"x": {"field": "g", "type": "nominal"}, "xOffset": {"field": "i", "type": "nominal"}, "y": {"field": "v", "type": "quantitative"}}},
  {"data": {"values": [{"a": "w", "b": "s", "y": 6.14, "s": "**"}]}, "layer": [
   {"mark": "rule", "encoding": {"x": {"field": "a", "type": "nominal"}, "x2": {"field": "b"}, "y": {"field": "y", "type": "quantitative"}}},
   {"mark": {"type": "text", "dx": 15.5, "dy": -1, "color": "black"}, "encoding": {"x": {"field": "a", "type": "nominal"}, "y": {"field": "y", "type": "quantitative"}, "text": {"field": "s"}}}]}
 ]}
]
},
{
"width": 403, "height": 219,
"layer": [
 {"data": {"values": [{}]}, "mark": {"type": "rect", "color": "#e3e3e3", "cornerRadius": 7}, "encoding": {"x": {"datum": 0, "type": "quantitative", "scale": {"domain": [42, 445], "nice": false, "zero": false}, "axis": null}, "x2": {"datum": 445}, "y": {"datum": 0, "type": "quantitative", "scale": {"domain": [0, 219], "reverse": true, "nice": false, "zero": false}, "axis": null}, "y2": {"datum": 219}}},
 {"data": {"values": [{"arena": "G", "x": 99, "y": 100}, {"arena": "H", "x": 335, "y": 100}]}, "mark": {"type": "point", "shape": "circle", "size": 28600, "filled": true, "fill": "white", "stroke": "black", "strokeWidth": 2.6, "opacity": 1}, "encoding": {"x": {"field": "x", "type": "quantitative"}, "y": {"field": "y", "type": "quantitative"}}},
 {"data": {"name": "tracks"}, "mark": {"type": "line", "strokeWidth": 1.1, "strokeJoin": "round"}, "encoding": {"x": {"field": "x", "type": "quantitative"}, "y": {"field": "y", "type": "quantitative"}, "detail": {"field": "t"}, "order": {"field": "k", "type": "quantitative"}, "color": {"field": "c", "type": "nominal", "scale": {"domain": ["1","2","3","4","5"], "range": ["#f25e5e", "#f582ee", "#3d3e80", "#3ae23a", "#dff03c"]}, "legend": null}}},
 {"data": {"values": [{}]}, "mark": {"type": "text", "text": "G", "fontSize": 17, "fontWeight": "bold", "align": "left", "baseline": "alphabetic", "font": "Open Sans", "color": "black"}, "encoding": {"x": {"datum": 13}, "y": {"datum": 29}}},
 {"data": {"values": [{}]}, "mark": {"type": "text", "text": "H", "fontSize": 17, "fontWeight": "bold", "align": "left", "baseline": "alphabetic", "font": "Open Sans", "color": "black"}, "encoding": {"x": {"datum": 248}, "y": {"datum": 29}}},
 {"data": {"values": [{}]}, "mark": {"type": "text", "text": "Hibchᵀᴳ⁴/+", "fontSize": 14, "fontStyle": "italic", "align": "center", "baseline": "middle", "font": "Open Sans", "color": "black"}, "encoding": {"x": {"datum": 100}, "y": {"datum": 198}}},
 {"data": {"values": [{}]}, "mark": {"type": "text", "text": "Hibchᵀᴳ⁴", "fontSize": 14, "fontStyle": "italic", "align": "center", "baseline": "middle", "font": "Open Sans", "color": "black"}, "encoding": {"x": {"datum": 343}, "y": {"datum": 198}}}
]
}
],
"spacing": 21,
"config": {
 "view": {"stroke": null},
 "font": "Liberation Sans",
 "axis": {"domainColor": "black", "domainWidth": 1.6, "tickColor": "black", "tickWidth": 1.6, "tickSize": 5, "labelFont": "Liberation Sans", "labelFontSize": 10, "labelColor": "#222222", "titleFont": "Liberation Sans", "titleFontSize": 10.5, "titleFontWeight": "normal", "titleColor": "#222222", "grid": false, "labelPadding": 2},
 "axisX": {"title": null, "labelAngle": -45, "bandPosition": 0.5},
 "axisY": {"titlePadding": 6},
 "boxplot": {"extent": "min-max", "size": 19, "box": {"fill": "white", "stroke": "black", "strokeWidth": 1.7}, "median": {"color": "black", "strokeWidth": 1.7}, "rule": {"color": "black", "strokeWidth": 1.7}, "ticks": {"color": "black", "size": 11, "strokeWidth": 1.7}},
 "point": {"filled": true, "size": 28, "color": "#cdcdcd", "opacity": 1},
 "rule": {"color": "black", "strokeWidth": 1.6},
 "text": {"fontSize": 10, "baseline": "bottom", "color": "#222222"},
 "title": {"anchor": "start", "fontSize": 19, "fontWeight": "bold", "font": "Liberation Sans", "offset": 0, "color": "black"}
}
}
